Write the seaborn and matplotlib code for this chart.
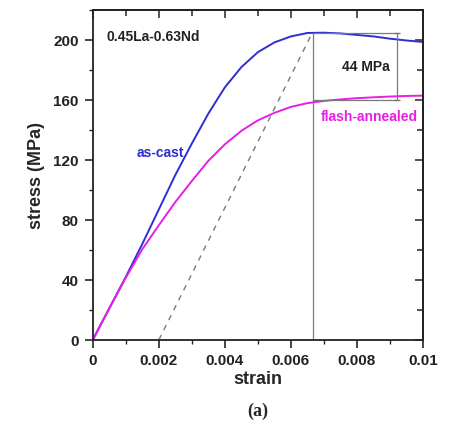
import matplotlib
matplotlib.use("Agg")
import matplotlib.pyplot as plt
import seaborn as sns
import pandas as pd
import numpy as np

# ---- data ----
strain = [0, 0.0005, 0.001, 0.0015, 0.002, 0.0025, 0.003, 0.0035, 0.004, 0.0045,
          0.005, 0.0055, 0.006, 0.0065, 0.007, 0.0075, 0.008, 0.0085, 0.009, 0.0095, 0.01]
as_cast = [0, 21, 42, 64, 87, 110, 131, 151, 168.5, 182,
           192, 198.5, 202.5, 204.8, 205, 204.5, 203.5, 202.5, 201, 199.8, 198.8]
flash_annealed = [0, 21, 41.5, 60.5, 76.5, 92, 106, 119.5, 130.5, 139.5,
                  146.5, 151.5, 155.5, 158, 159.5, 160.5, 161.3, 161.9, 162.4, 162.8, 163]

series_names = ["as-cast", "flash-annealed"]
series_colors = ["#2e2ed2", "#e61ee6"]

offset_strain = [0.002, 0.00665]          # 0.2% offset line (start, end strain)
offset_stress = [0, 205]
yield_strain = 0.00667
bracket_strain = 0.0092
bracket_stress = [204.5, 160]             # difference = 44 MPa

xticks = [0, 0.002, 0.004, 0.006, 0.008, 0.01]
xtick_labels = ["0", "0.002", "0.004", "0.006", "0.008", "0.01"]
yticks = [0, 40, 80, 120, 160, 200]
ytick_labels = ["0", "40", "80", "120", "160", "200"]

df = pd.DataFrame({
    "strain": strain * 2,
    "stress": as_cast + flash_annealed,
    "series": [series_names[0]] * len(strain) + [series_names[1]] * len(strain),
})

sns.set_style("ticks")
plt.rcParams["font.family"] = ["Liberation Sans", "DejaVu Sans"]
plt.rcParams["font.weight"] = "bold"

fig = plt.figure(figsize=(4.5, 4.25), dpi=100)
ax = fig.add_axes([0.206, 0.2, 0.734, 0.776])

sns.lineplot(data=df, x="strain", y="stress", hue="series", palette=series_colors,
             hue_order=series_names, ax=ax, linewidth=1.4, legend=False, sort=False)

gray = "#7a7a7a"
ax.plot(offset_strain, offset_stress, ls=(0, (4, 4)), color=gray, lw=1.0)
ax.plot([yield_strain, yield_strain], [0, offset_stress[1]], color=gray, lw=0.9)
ax.plot([yield_strain, bracket_strain], [bracket_stress[0]] * 2, color=gray, lw=0.9)
ax.plot([yield_strain, bracket_strain], [bracket_stress[1]] * 2, color=gray, lw=0.9)
ax.plot([bracket_strain] * 2, bracket_stress, color=gray, lw=0.9,
        marker="_", markersize=5)

ax.set_xlim(0, 0.01)
ax.set_ylim(0, 220)
ax.set_xticks(xticks)
ax.set_xticklabels(xtick_labels)
ax.set_yticks(yticks)
ax.set_yticklabels(ytick_labels)
ax.xaxis.set_minor_locator(matplotlib.ticker.MultipleLocator(0.001))
ax.yaxis.set_minor_locator(matplotlib.ticker.MultipleLocator(20))
ax.tick_params(which="major", direction="out", length=6, width=1.2, labelsize=11, pad=4)
ax.tick_params(which="minor", direction="out", length=3, width=1.0)
for lab in ax.get_xticklabels() + ax.get_yticklabels():
    lab.set_fontweight("bold")
    lab.set_color("#222222")

for s in ax.spines.values():
    s.set_visible(True)
    s.set_linewidth(1.3)
    s.set_color("#222222")

secx = ax.secondary_xaxis("top")
secx.set_xticks(xticks)
secx.xaxis.set_minor_locator(matplotlib.ticker.MultipleLocator(0.001))
secx.tick_params(which="both", direction="in", labeltop=False, width=1.1)
secx.tick_params(which="major", length=6)
secx.tick_params(which="minor", length=4)
secy = ax.secondary_yaxis("right")
secy.set_yticks(yticks)
secy.yaxis.set_minor_locator(matplotlib.ticker.MultipleLocator(20))
secy.tick_params(which="both", direction="in", labelright=False, width=1.1)
secy.tick_params(which="major", length=6)
secy.tick_params(which="minor", length=4)
for sa in (secx, secy):
    for s in sa.spines.values():
        s.set_linewidth(1.3)
        s.set_color("#222222")

ax.set_xlabel("strain", fontsize=13, fontweight="bold", labelpad=2)
ax.set_ylabel("stress (MPa)", fontsize=13, fontweight="bold", labelpad=6)

ax.text(0.00042, 202, "0.45La-0.63Nd", fontsize=10, fontweight="bold",
        color="#222222", va="center", ha="left")
ax.text(0.00205, 124.5, series_names[0], fontsize=10, fontweight="bold",
        color=series_colors[0], va="center", ha="center")
ax.text(0.00837, 148.5, series_names[1], fontsize=10, fontweight="bold",
        color=series_colors[1], va="center", ha="center")
ax.text(0.00826, 182, "44 MPa", fontsize=10, fontweight="bold",
        color="#222222", va="center", ha="center")

fig.text(0.573, 0.031, "(a)", fontsize=13, fontweight="bold",
         family=["Liberation Serif", "DejaVu Serif"], ha="center", va="center")

fig.savefig("out.png", dpi=100, facecolor="white")
